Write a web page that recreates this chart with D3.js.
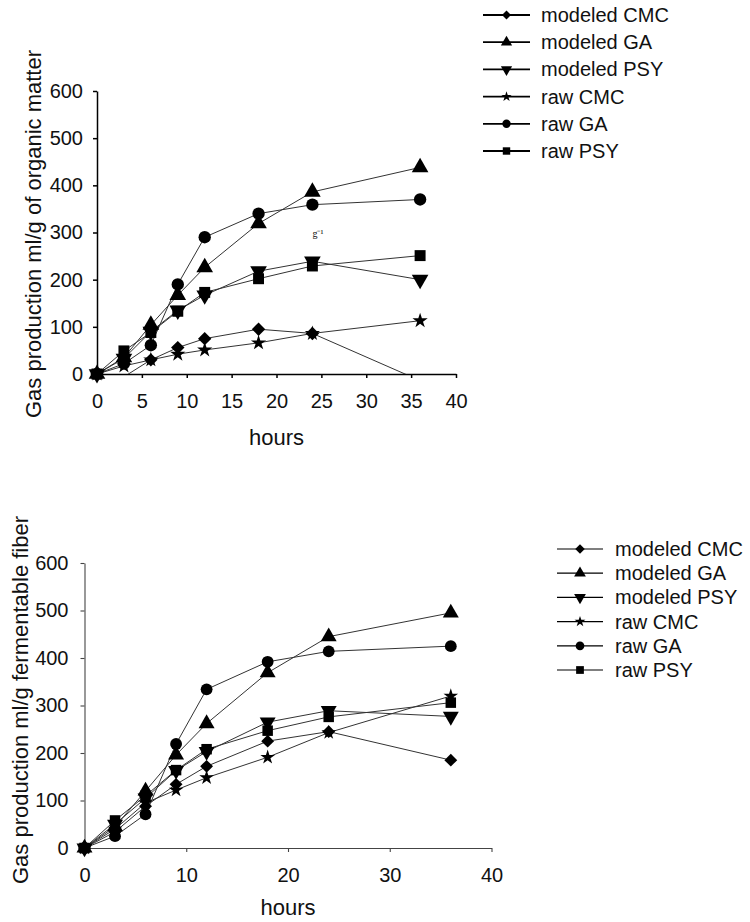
<!DOCTYPE html>
<html><head><meta charset="utf-8">
<script src="https://cdn.jsdelivr.net/npm/d3@7"></script>
<style>body{margin:0;background:#fff}svg{display:block}text{font-family:"Liberation Sans",Arial,sans-serif;fill:#111}</style>
</head><body>
<svg id="c" width="750" height="922"></svg>
<script>
const hours = [0, 3, 6, 9, 12, 18, 24, 36];
const seriesNames = ["modeled CMC", "modeled GA", "modeled PSY", "raw CMC", "raw GA", "raw PSY"];
const xTicksTop = [0, 5, 10, 15, 20, 25, 30, 35, 40];
const xTicksBottom = [0, 10, 20, 30, 40];
const yTicks = [0, 100, 200, 300, 400, 500, 600];

// Top chart: ml/g of organic matter
const omModeledCMC = [0, -6, 30, 56, 75, 95, 86, -14];
const omModeledGA  = [0, 35, 104, 167, 226, 319, 386, 438];
const omModeledPSY = [0, 33, 90, 135, 167, 218, 239, 200];
const omRawCMC     = [0, 17, 30, 42, 51, 66, 86, 113];
const omRawGA      = [0, 22, 61, 190, 290, 340, 359, 370];
const omRawPSY     = [0, 49, 88, 133, 173, 202, 229, 251];

// Bottom chart: ml/g fermentable fiber
const ffModeledCMC = [0, 34, 88, 134, 172, 225, 245, 185];
const ffModeledGA  = [0, 45, 120, 196, 262, 369, 445, 495];
const ffModeledPSY = [0, 50, 105, 163, 203, 265, 289, 277];
const ffRawCMC     = [0, 40, 95, 122, 148, 191, 243, 320];
const ffRawGA      = [0, 25, 71, 219, 334, 392, 414, 425];
const ffRawPSY     = [0, 58, 110, 164, 208, 247, 276, 306];

const symbols = [
  {t: d3.symbolSquare, rot: 45, s: 0.75},
  {t: d3.symbolTriangle, rot: 0, s: 1.0},
  {t: d3.symbolTriangle, rot: 180, s: 1.0},
  {t: d3.symbolStar, rot: 0, s: 0.6},
  {t: d3.symbolCircle, rot: 0, s: 1.0},
  {t: d3.symbolSquare, rot: 0, s: 1.0}
];

const svg = d3.select("#c");

function drawChart(cfg) {
  const g = svg.append("g");
  const x = d3.scaleLinear().domain([0, 40]).range([cfg.x0, cfg.x1]);
  const y = d3.scaleLinear().domain([0, 600]).range([cfg.y0, cfg.y1]);
  const clipId = "clip" + cfg.id;
  svg.append("defs").append("clipPath").attr("id", clipId)
    .append("rect").attr("x", cfg.x0).attr("y", cfg.y1 - 2)
    .attr("width", cfg.x1 - cfg.x0 + 2).attr("height", cfg.y0 - cfg.y1 + 2);

  // axes
  const yAxis = g.append("g").attr("transform", `translate(${cfg.x0},0)`)
    .call(d3.axisLeft(y).tickValues(yTicks).tickSize(4).tickPadding(cfg.yPad).tickSizeOuter(0));
  const xAxis = g.append("g").attr("transform", `translate(0,${cfg.y0})`)
    .call(d3.axisBottom(x).tickValues(cfg.xTicks).tickSize(4).tickPadding(cfg.xPad).tickSizeOuter(0));
  [yAxis, xAxis].forEach(a => {
    a.select(".domain").attr("stroke", cfg.axisColor).attr("stroke-width", cfg.axisW);
    a.selectAll(".tick line").attr("stroke", cfg.axisColor).attr("stroke-width", cfg.axisW);
    a.selectAll("text").style("font-size", "20px").attr("fill", "#111")
      .style("font-family", '"Liberation Sans",Arial,sans-serif');
  });

  // axis titles
  g.append("text").attr("x", (cfg.x0 + cfg.x1) / 2 + cfg.hoursDx).attr("y", cfg.hoursY)
    .attr("text-anchor", "middle").attr("dominant-baseline", "central")
    .style("font-size", "22px").text("hours");
  g.append("text")
    .attr("transform", `translate(${cfg.ylabX},${cfg.ylabY}) rotate(-90)`)
    .attr("text-anchor", "middle").attr("dominant-baseline", "central")
    .style("font-size", "22px").text(cfg.ylabel);

  // series
  const line = d3.line().x((d, i) => x(hours[i])).y(d => y(d));
  const lg = g.append("g").attr("clip-path", `url(#${clipId})`);
  cfg.data.forEach((vals, k) => {
    lg.append("path").attr("d", line(vals)).attr("fill", "none")
      .attr("stroke", "#333").attr("stroke-width", 1);
  });
  cfg.data.forEach((vals, k) => {
    const sym = symbols[k];
    const p = d3.symbol().type(sym.t).size(cfg.msize * sym.s)();
    g.append("g").selectAll("path").data(vals.map((v, i) => [hours[i], v]).filter(d => d[1] >= 0))
      .join("path").attr("d", p)
      .attr("transform", d => `translate(${x(d[0])},${y(d[1])}) rotate(${sym.rot})`)
      .attr("fill", "#000");
  });

  // legend
  const leg = g.append("g");
  seriesNames.forEach((name, k) => {
    const yy = cfg.legY0 + k * cfg.legDy;
    leg.append("line").attr("x1", cfg.legX).attr("x2", cfg.legX + cfg.legLen)
      .attr("y1", yy).attr("y2", yy).attr("stroke", "#000").attr("stroke-width", cfg.legW);
    const sym = symbols[k];
    leg.append("path").attr("d", d3.symbol().type(sym.t).size(cfg.legMsize * sym.s)())
      .attr("transform", `translate(${cfg.legX + cfg.legLen / 2},${yy}) rotate(${sym.rot})`)
      .attr("fill", "#000");
    leg.append("text").attr("x", cfg.legTx).attr("y", yy).attr("dominant-baseline", "central")
      .style("font-size", "20px").text(name);
  });
  return {x, y, g};
}

const topChart = drawChart({
  id: "top", x0: 97, x1: 456, y0: 374, y1: 91, xTicks: xTicksTop,
  yPad: 10, xPad: 16, axisColor: "#000", axisW: 1.5,
  hoursY: 437, hoursDx: 0, ylabX: 33, ylabY: 234,
  ylabel: "Gas production ml/g of organic matter",
  data: [omModeledCMC, omModeledGA, omModeledPSY, omRawCMC, omRawGA, omRawPSY],
  msize: 120,
  legX: 483, legLen: 47, legTx: 541, legY0: 15, legDy: 27.2, legW: 1.8, legMsize: 55
});
topChart.g.append("text").attr("x", topChart.x(24)).attr("y", topChart.y(300) + 4)
  .style("font-family", '"Liberation Serif",serif').style("font-size", "10px")
  .attr("fill", "#555").text("g⁻¹");

drawChart({
  id: "bot", x0: 84.5, x1: 491.5, y0: 848, y1: 563, xTicks: xTicksBottom,
  yPad: 12, xPad: 16, axisColor: "#444", axisW: 1.1,
  hoursY: 907, hoursDx: 0, ylabX: 20, ylabY: 700,
  ylabel: "Gas production ml/g fermentable fiber",
  data: [ffModeledCMC, ffModeledGA, ffModeledPSY, ffRawCMC, ffRawGA, ffRawPSY],
  msize: 110,
  legX: 557, legLen: 46, legTx: 615, legY0: 549, legDy: 24.2, legW: 1.2, legMsize: 60
});
</script>
</body></html>
